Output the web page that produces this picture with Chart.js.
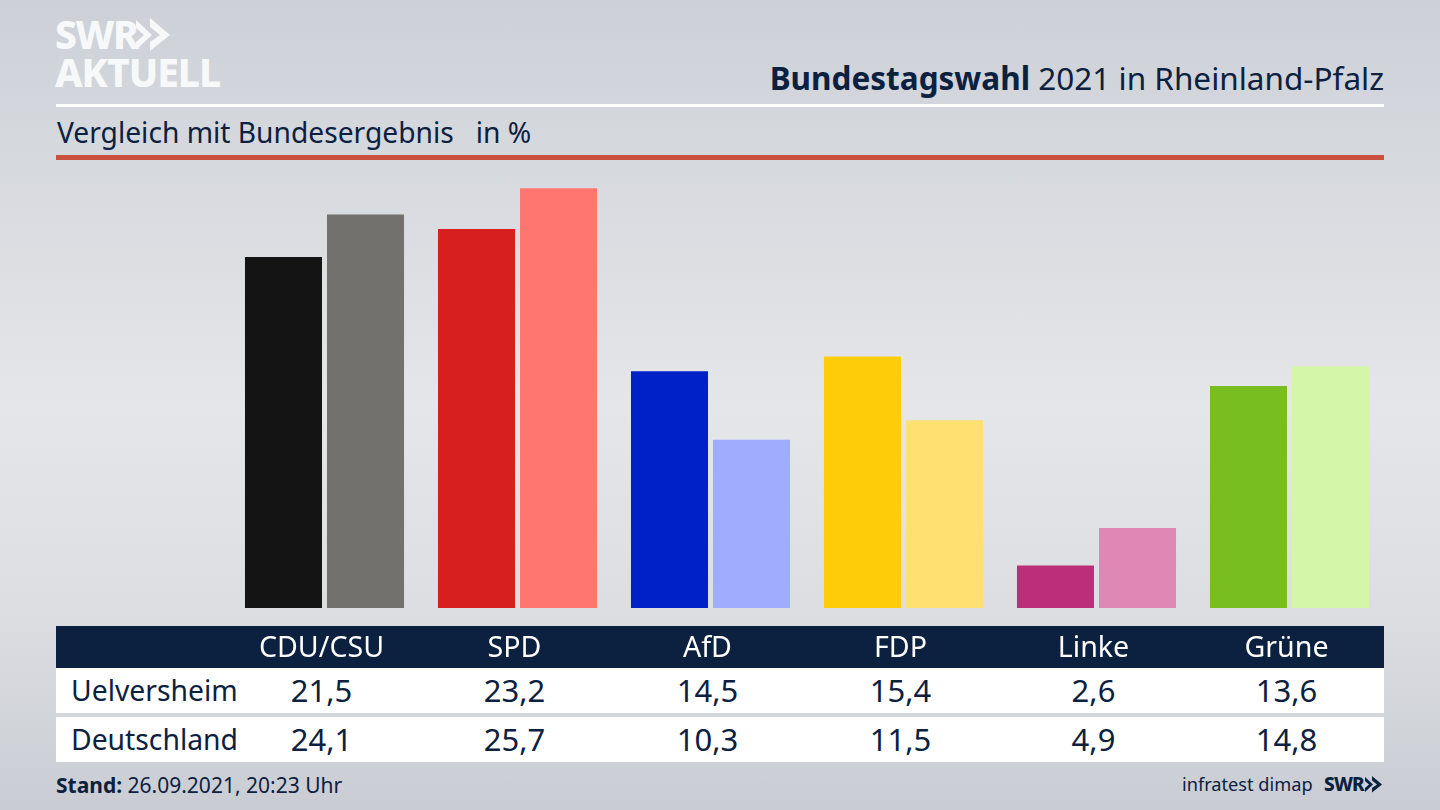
<!DOCTYPE html>
<html lang="de">
<head>
<meta charset="utf-8">
<title>Bundestagswahl 2021 in Rheinland-Pfalz</title>
<script src="https://cdn.jsdelivr.net/npm/chart.js@4"></script>
<style>
	html, body { margin: 0; padding: 0; }
	body {
		position: relative; width: 1440px; height: 810px; overflow: hidden;
		font-family: "Noto Sans", sans-serif; color: #0c2040;
		background: linear-gradient(180deg, #cdd1d7 0%, #d6d9de 20%, #e5e6e9 50%, #dcdee2 75%, #c9cdd3 100%);
	}
	.abs { position: absolute; white-space: nowrap; }
	.logo { color: #f7f8f9; font-weight: 800; line-height: 1; }
	#band { left: 56px; top: 626px; width: 1328px; height: 42px; background: #0c2040; }
	.row { left: 56px; width: 1328px; background: #fff; }
	.cell { font-size: 31px; line-height: 44px; transform: translateX(-50%); }
	.rowname { font-size: 28.3px; line-height: 44px; left: 71px; }
	canvas { position: absolute; left: 0; top: 0; }
</style>
</head>
<body>
	<div class="abs logo" style="left:55px;top:14px;font-size:39px;letter-spacing:-1.5px">SWR</div>
	<svg class="abs" style="left:136px;top:18px" width="36" height="34" viewBox="0 0 36 34">
		<path d="M0 2 L16 17 L0 32 L0 24 L8 17 L0 10 Z M14 0 L34 17 L14 33 L14 24 L24 17 L14 9 Z" fill="#f7f8f9"/>
	</svg>
	<div class="abs logo" style="left:55px;top:52px;font-size:39px;letter-spacing:-1px">AKTUELL</div>

	<div class="abs" style="right:56px;top:56px;font-size:31.5px;line-height:44px"><b>Bundestagswahl</b> 2021 in Rheinland-Pfalz</div>
	<div class="abs" style="left:56px;top:104px;width:1328px;height:3px;background:#fff"></div>
	<div class="abs" style="left:57px;top:111px;font-size:28.2px;line-height:42px">Vergleich mit Bundesergebnis &nbsp; in %</div>
	<div class="abs" style="left:56px;top:155px;width:1328px;height:5px;background:#c9503c"></div>

	<div class="abs" id="band"></div>
	<div class="abs row" style="top:668px;height:45px"></div>
	<div class="abs row" style="top:717px;height:45px"></div>
	<div id="table"></div>

	<div class="abs" style="left:56px;top:770px;font-size:21px;line-height:30px"><b>Stand:</b> 26.09.2021, 20:23 Uhr</div>
	<div class="abs" style="left:1182px;top:769px;font-size:18.2px;line-height:30px">infratest dimap</div>
	<div class="abs" style="left:1324px;top:770px;font-size:19px;line-height:28px;font-weight:800;letter-spacing:-0.8px">SWR</div>
	<svg class="abs" style="left:1365px;top:776px" width="18" height="17" viewBox="0 0 36 34">
		<path d="M0 2 L16 17 L0 32 L0 24 L8 17 L0 10 Z M14 0 L34 17 L14 33 L14 24 L24 17 L14 9 Z" fill="#0c2040"/>
	</svg>

	<canvas id="wahlChart" width="1440" height="810"></canvas>

<script>
//values
const parties = ["CDU/CSU", "SPD", "AfD", "FDP", "Linke", "Grüne"];
const uelversheim = [21.5, 23.2, 14.5, 15.4, 2.6, 13.6];
const deutschland = [24.1, 25.7, 10.3, 11.5, 4.9, 14.8];
const strongColors = ["#141414", "#d71f1d", "#0020c8", "#ffcc0a", "#bd2e78", "#78be1e"];
const paleColors = ["#72716e", "#ff7570", "#9fadff", "#ffe070", "#df88b6", "#d3f6a8"];

const ctx = document.getElementById("wahlChart").getContext("2d");
const chart = new Chart(ctx, {
	type: "bar",
	data: {
		labels: parties,
		datasets: [
			{ label: "Uelversheim", data: uelversheim, backgroundColor: strongColors },
			{ label: "Deutschland", data: deutschland, backgroundColor: paleColors },
		],
	},
	options: {
		responsive: false,
		animation: false,
		layout: { padding: { left: 228, right: 54, top: 170, bottom: 0 } },
		categoryPercentage: 0.85,
		barPercentage: 0.939,
		plugins: { legend: { display: false }, tooltip: { enabled: false } },
		scales: {
			y: { display: false, min: 0, max: 26.82 },
			x: {
				grid: { display: false },
				border: { display: false },
				// party names sit a little left of the bar groups
				ticks: {
					color: "#ffffff",
					font: { family: "Noto Sans", size: 28.6 },
					padding: 16,
					labelOffset: -3,
					maxRotation: 0,
				},
				afterFit: function (scale) {
					scale.height = 202; // keeps the baseline at 608
				},
			},
		},
	},
});

// Table rows below the chart
const table = document.getElementById("table");
function addRow(name, values, top) {
	const label = document.createElement("div");
	label.className = "abs rowname";
	label.style.top = top + "px";
	label.textContent = name;
	table.appendChild(label);
	for (let i = 0; i < values.length; i++) {
		const cell = document.createElement("div");
		cell.className = "abs cell";
		cell.style.top = top + "px";
		cell.style.left = 321.5 + 193 * i + "px";
		cell.textContent = values[i].toFixed(1).replace(".", ",");
		table.appendChild(cell);
	}
}
addRow("Uelversheim", uelversheim, 668);
addRow("Deutschland", deutschland, 717);
</script>
</body>
</html>
